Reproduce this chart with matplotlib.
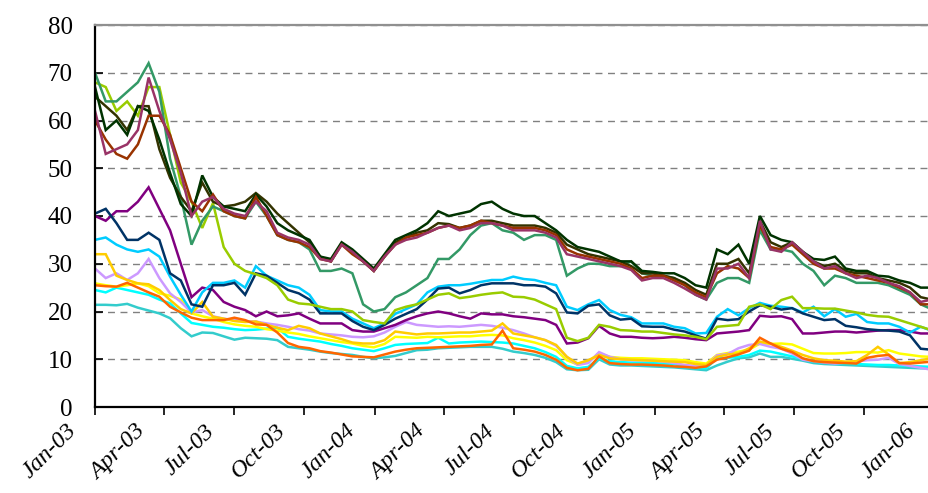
import numpy as np
import pandas as pd
import matplotlib
matplotlib.use("Agg")
import matplotlib.pyplot as plt
import matplotlib.dates as mdates
from matplotlib.transforms import ScaledTranslation

# ---------------- data (14-day sampling) ----------------
dates = pd.date_range("2003-01-01", periods=79, freq="14D")

plum = [62, 53, 54, 55, 58, 69, 62, 56, 49, 40, 43, 44, 41.5, 40.5, 40, 43, 41, 36.5, 35.5, 35,
        34, 31, 30.5, 34, 32.5, 30.5, 28.5, 31.5, 34, 35, 35.5, 36.5, 37.5, 38, 37, 37.5, 38.5, 38.5, 38, 37,
        37, 37, 36.5, 35.5, 32, 31.5, 31, 30.5, 30, 29.5, 28.7, 26.5, 27, 27, 26, 24.8, 23.5, 22.5, 29, 29,
        30, 27, 39, 33, 32.5, 34.5, 32.5, 30.5, 29, 29.5, 28, 27, 27.5, 27, 26, 25.3, 24, 22, 22.5]
brown = [60, 56, 53, 52, 55, 61, 61, 57, 50, 43, 41, 44.5, 41, 40, 39.5, 44, 40, 36, 35, 34.5,
         33.5, 31, 30.5, 34, 32, 30.5, 28.5, 31.5, 34, 35.5, 36, 36.5, 37.5, 38, 37.5, 38, 39, 38.5, 38, 37.5,
         37.5, 37.5, 37, 36, 33, 32, 31.5, 31, 30.5, 30, 29, 27, 27.5, 27.5, 26.5, 25.5, 24, 23, 28, 29.5,
         29, 27, 38, 33.5, 33, 34, 32, 30, 29, 29, 28, 27.5, 27, 26.5, 26, 25, 24, 21.5, 21.5]
dark_green = [67, 58, 60, 57, 63, 62, 56, 49, 42.5, 40, 48.5, 44, 42, 41.5, 41, 44.5, 42, 38.5, 37, 36,
              35, 31.5, 31, 34.5, 33, 31, 29, 32, 35, 36, 37, 38.5, 41, 40, 40.5, 41, 42.5, 43, 41.5, 40.5,
              40, 40, 38.5, 37, 35, 33.5, 33, 32.5, 31.5, 30.5, 30.5, 28.5, 28.3, 28, 28, 27, 25.5, 25, 33, 32,
              34, 30, 40, 36, 35, 34.5, 32.5, 31, 30.8, 31.5, 29, 28.5, 28.5, 27.5, 27.3, 26.5, 26, 25, 25]
dark_olive = [65, 63, 61, 58, 63, 63, 54, 48, 44, 41, 47, 43, 42, 42.3, 43, 44.8, 43, 40.5, 38.5, 36.5,
              34.5, 31.5, 30.5, 34.3, 32.5, 30.5, 28.5, 31.5, 34.5, 35.5, 36.5, 37, 38.5, 38.3, 37.5, 38, 39, 39, 38.5, 38,
              38, 38, 37.5, 36.5, 34, 33, 32, 31.5, 31, 30.5, 29.5, 28, 28, 27.5, 27, 26, 24.5, 23.5, 30, 30,
              31, 28, 39, 34.5, 33.5, 34.5, 32.5, 30.5, 29.5, 30, 28.5, 28, 28, 27, 26.5, 26, 25, 23, 22.5]
sea_green = [70, 64, 64, 66, 68, 72, 66, 52, 44, 34, 39, 42, 41, 40, 39.5, 43, 40, 36, 35, 34.5,
             33, 28.5, 28.5, 29, 28, 21.5, 20, 20.5, 23, 24, 25.5, 27, 31, 31, 33, 36, 38, 38.5, 37, 36.5,
             35, 36, 36, 35, 27.5, 29, 30, 30, 29.5, 29.5, 30.5, 28, 27.5, 27.5, 27, 25.5, 23.5, 22.5, 26, 27,
             27, 26, 37, 33, 33, 32.5, 30, 28.5, 25.5, 27.5, 27, 26, 26, 26, 25.5, 24.5, 23.5, 21.5, 20.5]
yellow_green = [68, 67, 62, 64, 61, 67, 67, 57, 47, 43, 37.5, 42.7, 33.5, 30, 28.5, 27.8, 27, 25.5, 22.5, 21.7,
                21.5, 21, 20.5, 20.5, 20, 18.2, 17.8, 17.5, 20.3, 21, 21.5, 22.5, 23.5, 23.8, 22.8, 23.1, 23.5, 23.8, 24, 23.1,
                23, 22.5, 21.5, 20.5, 14.5, 13.8, 14.5, 17.2, 16.8, 16.1, 16, 15.8, 15.8, 15.5, 15.2, 15, 14.7, 14.2, 16.8, 17,
                17.2, 21, 21.5, 20.5, 22.4, 23.1, 20.7, 20.7, 20.6, 20.6, 20.2, 19.8, 19.3, 19, 18.9, 18.2, 17.5, 16.8, 16.1]
purple = [40, 39, 41, 41, 43, 46, 41.5, 37, 30, 23, 25, 24.5, 22, 21, 20.3, 19, 20, 19, 19.2, 19.6,
          18.5, 17.5, 17.5, 17.5, 16.1, 15.8, 15.8, 16.5, 17.2, 18.2, 19, 19.6, 20, 19.6, 19, 18.5, 19.6, 19.4, 19.4, 19,
          18.8, 18.5, 18.2, 17.2, 13.3, 13.5, 14.4, 17, 15.4, 14.7, 14.7, 14.5, 14.4, 14.5, 14.7, 14.5, 14.2, 14, 15.4, 15.6,
          15.8, 16.1, 19.1, 18.9, 19, 18.4, 15.4, 15.4, 15.6, 15.8, 15.8, 15.6, 15.8, 16, 16.1, 16.1, 15.8, 15.4, 15.4]
navy = [40.5, 41.5, 38.5, 35, 35, 36.5, 35, 28, 26.5, 21.5, 21, 25.5, 25.5, 26, 23.5, 28, 27.5, 26, 24.5, 23.8,
        22.5, 19.6, 19.6, 19.6, 18, 16.8, 16.1, 17.2, 18.5, 19.5, 20.5, 22.5, 24.8, 25, 23.8, 24.5, 25.5, 25.9, 25.9, 25.9,
        25.5, 25.5, 25.2, 23.8, 19.8, 19.6, 21.2, 21.5, 19.2, 18.3, 18.5, 16.9, 16.8, 16.8, 16.2, 15.8, 15, 14.3, 18.5, 18.2,
        18.4, 20, 21.3, 21, 20.4, 20.7, 19.6, 18.9, 18.2, 18.4, 17, 16.7, 16.3, 16.1, 16, 15.8, 15, 12.2, 12]
sky_blue = [35, 35.5, 34, 33, 32.5, 33, 31.5, 27.3, 23.5, 20, 24, 26, 26, 26.5, 25, 29.5, 27.5, 26.5, 25.5, 25,
            23.5, 20.3, 20, 20, 18.5, 17.5, 16.5, 17.5, 19.5, 20.5, 21.5, 24, 25.2, 25.5, 25.5, 25.8, 26.2, 26.6, 26.6, 27.3,
            26.8, 26.6, 26, 25.5, 21, 20.3, 21.5, 22.4, 20.3, 19.3, 18.8, 17.5, 17.5, 17.5, 16.8, 16.5, 15.4, 15.5, 18.9, 20.5,
            19.2, 20.7, 21.8, 21.2, 21, 20.7, 19.8, 21, 19, 20.5, 18.9, 19.5, 17.8, 17.5, 17.5, 16.8, 15.6, 16.8, 16]
lavender = [29, 27, 28, 26.6, 28, 31, 27, 23.8, 22, 19.8, 20.3, 19, 18.5, 18.2, 18, 17.9, 17.5, 17.2, 16.8, 16.3,
            16, 15.4, 15.2, 15, 14.7, 14.6, 14.8, 15.6, 16.8, 17.8, 17.2, 17, 16.8, 16.9, 16.8, 17, 17.2, 17, 16.6, 16.1,
            15.4, 14.6, 14, 12.8, 10.5, 8.8, 9.2, 11.5, 10.5, 10, 9.8, 9.8, 9.7, 9.5, 9.2, 8.8, 8.6, 8.6, 10.8, 11.1,
            12.3, 13, 13.2, 12.6, 12.2, 11.2, 9.9, 9.6, 9.3, 9.1, 9.3, 9.5, 9.8, 9.9, 10.3, 9, 8.6, 8.2, 7.8]
gold = [32, 32, 27.5, 26.6, 25.9, 25.7, 24.5, 22.4, 20.5, 19.6, 22, 18.9, 18.5, 18, 17.8, 17.9, 17.2, 16.6, 16.1, 17,
        16.5, 15.4, 14.8, 14.2, 13.5, 13.3, 13.3, 14, 15.8, 15.5, 15.2, 15.4, 15.4, 15.5, 15.6, 15.6, 15.8, 16, 17.5, 15.4,
        15, 14.6, 14, 13, 10.5, 9.1, 9.8, 10.9, 10.2, 10, 9.9, 9.8, 9.7, 9.6, 9.5, 9.4, 9, 8.8, 10.5, 11,
        11.2, 12.3, 13.7, 13.3, 12.6, 11.8, 10.9, 10.2, 9.8, 9.7, 9.5, 9.6, 10.9, 12.6, 11, 9.2, 9.4, 9.8, 10.2]
yellow = [25.9, 25.5, 25.2, 25.5, 25.9, 25.3, 23.8, 23.3, 22.5, 19.6, 19, 18.5, 17.8, 17.3, 17, 16.8, 16.3, 16, 15.6, 15.3,
          14.8, 14.4, 14, 13.6, 13.3, 12.8, 12.5, 13.2, 14.7, 14.6, 14.5, 14.7, 14.6, 14.7, 14.8, 14.8, 15, 15.1, 15, 14.4,
          14, 13.5, 12.8, 11.9, 9.8, 8.9, 9.5, 11.2, 10.5, 10.3, 10.2, 10.2, 10.1, 10, 9.9, 9.8, 9.4, 9.1, 10.9, 11.3,
          11.6, 12, 13.3, 13.2, 13.3, 13.1, 12.2, 11.3, 11.2, 11.2, 11.3, 11.5, 11.5, 11.4, 11.9, 11.2, 10.9, 10.6, 10.5]
cyan = [24.5, 24, 25, 24.5, 24, 23.5, 22.5, 21.7, 19.6, 17.6, 17.2, 16.8, 16.6, 16.3, 16.1, 16.2, 16.4, 16.6, 14.7, 14.3,
        14, 13.7, 13.2, 12.8, 12.3, 12, 11.7, 12.3, 13, 13.2, 13.3, 13.4, 14.5, 13.3, 13.5, 13.6, 13.7, 13.6, 13.5, 13.3,
        12.8, 12.3, 11.5, 10.5, 8.6, 8.1, 8.4, 10.2, 9.6, 9.4, 9.3, 9.3, 9.2, 9.1, 9, 8.4, 8.2, 8.1, 10.2, 10.3,
        10.5, 10.9, 11.8, 11.6, 11.1, 10.6, 10.1, 9.5, 9.4, 9.2, 9.1, 9, 8.9, 8.8, 8.8, 8.7, 8.6, 8.5, 8.4]
orange = [25.5, 25.3, 25.2, 26, 25, 24, 23.1, 21, 19.8, 18.7, 18.2, 18.2, 18.2, 18.7, 18.2, 17.3, 17.2, 15.6, 13.4, 12.6,
          12.3, 11.7, 11.4, 11, 10.6, 10.5, 10.4, 11, 11.6, 12, 12.3, 12.4, 12.5, 12.6, 12.7, 12.8, 13, 13.1, 16, 12.3,
          12, 11.6, 10.9, 9.9, 8.2, 7.7, 8, 10.6, 9.2, 9, 8.9, 8.9, 8.8, 8.7, 8.5, 8.4, 8.2, 8.5, 9.9, 10.4,
          11, 11.8, 14.5, 13.3, 12.2, 11.5, 10.2, 9.6, 9.4, 9.3, 9.2, 9.1, 10.3, 10.7, 10.9, 9.2, 9.1, 9.3, 9.5]
turquoise = [21.4, 21.4, 21.3, 21.6, 20.8, 20.2, 19.6, 18.6, 16.5, 14.8, 15.6, 15.5, 14.8, 14.1, 14.5, 14.4, 14.3, 14, 12.6, 12.3,
             12, 11.6, 11.3, 11.1, 10.9, 10.5, 10.2, 10.4, 10.7, 11.3, 11.9, 12, 12.3, 12.4, 12.5, 12.6, 12.6, 12.6, 12.2, 11.6,
             11.3, 10.9, 10.3, 9.4, 7.9, 7.7, 7.8, 10, 8.9, 8.7, 8.7, 8.6, 8.5, 8.4, 8.3, 8.1, 7.9, 7.7, 8.7, 9.5,
             10.2, 10.4, 11.2, 10.5, 10.5, 10.1, 9.7, 9.2, 9, 8.9, 8.8, 8.7, 8.6, 8.5, 8.4, 8.3, 8.2, 8.1, 8.1]

y_ticks = [0, 10, 20, 30, 40, 50, 60, 70, 80]
x_tick_dates = pd.date_range("2003-01-01", "2006-01-01", freq="QS")
x_tick_labels = [d.strftime("%b-%y") for d in x_tick_dates]

# drawing order (first drawn is underneath)
series = [
    (turquoise, "#33CCCC"),
    (cyan, "#00FFFF"),
    (yellow, "#FFFF00"),
    (lavender, "#CC99FF"),
    (gold, "#FFCC00"),
    (orange, "#FF6600"),
    (purple, "#800080"),
    (sky_blue, "#00CCFF"),
    (navy, "#003366"),
    (yellow_green, "#99CC00"),
    (sea_green, "#339966"),
    (dark_olive, "#333300"),
    (dark_green, "#003300"),
    (brown, "#993300"),
    (plum, "#993366"),
]

# ---------------- figure ----------------
W, H, DPI = 929, 493, 100
fig = plt.figure(figsize=(W / DPI, H / DPI), dpi=DPI, facecolor="white")

left_px, bottom_px, top_px = 95, 407, 25
start = pd.Timestamp("2003-01-01")
end = pd.Timestamp("2006-04-01")
px_per_day = 0.766
width_px = (end - start).days * px_per_day
ax = fig.add_axes([left_px / W, (H - bottom_px) / H, width_px / W, (bottom_px - top_px) / H])

for vals, col in series:
    ax.plot(dates, vals, color=col, lw=1.8, solid_joinstyle="miter")

ax.set_xlim(start, end)
ax.set_ylim(0, 80)

ax.set_yticks(y_ticks)
ax.set_yticklabels([str(v) for v in y_ticks], fontfamily="Liberation Serif", fontsize=18)
ax.set_xticks(x_tick_dates)
ax.set_xticklabels(x_tick_labels, fontfamily="Liberation Serif", fontstyle="italic",
                   fontsize=17.5, rotation=45, ha="right", va="center", rotation_mode="anchor")

ax.grid(axis="y", color="#808080", linestyle=(0, (5, 4)), linewidth=1.0)
ax.grid(axis="x", visible=False)

ax.tick_params(axis="y", direction="in", length=6, width=1.2, pad=16, color="black")
ax.tick_params(axis="x", direction="out", length=6, width=1.2, pad=9, color="black")

for side in ["left", "bottom"]:
    ax.spines[side].set_color("black")
    ax.spines[side].set_linewidth(1.6)
ax.spines["top"].set_color("#909090")
ax.spines["top"].set_linewidth(1.6)
ax.spines["right"].set_visible(False)

offset = ScaledTranslation(-22 / DPI, 0, fig.dpi_scale_trans)
for lbl in ax.get_xticklabels():
    lbl.set_transform(lbl.get_transform() + offset)

fig.savefig("out.png", dpi=DPI, facecolor="white")
